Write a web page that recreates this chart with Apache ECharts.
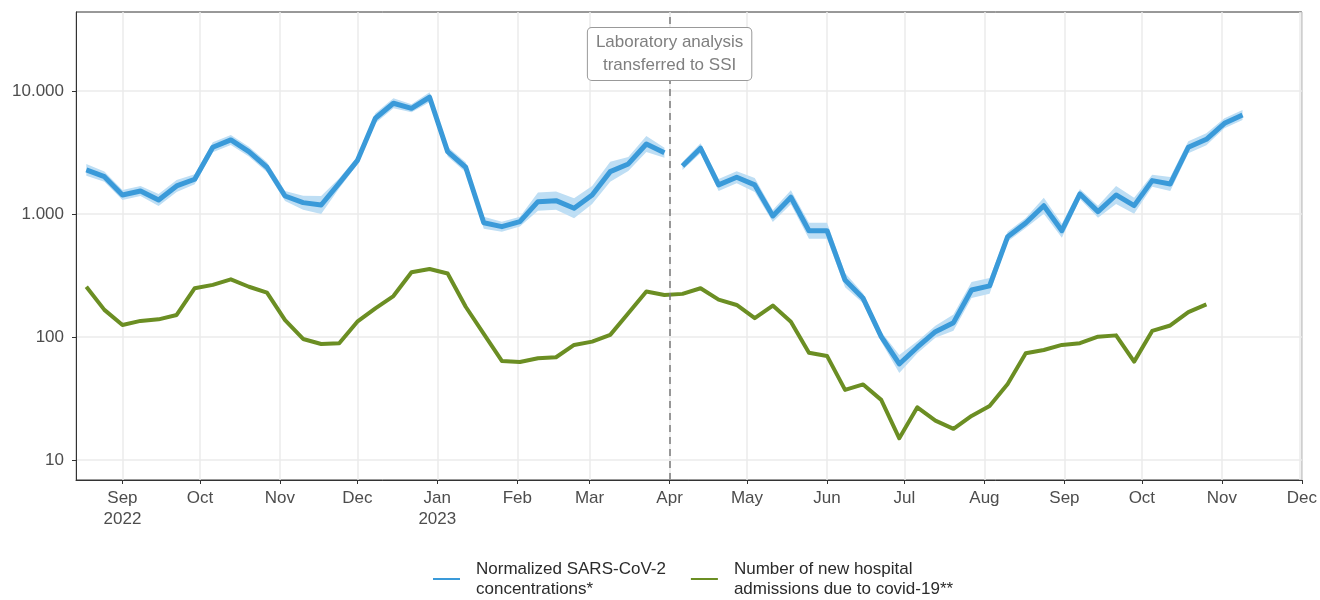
<!DOCTYPE html>
<html>
<head>
<meta charset="utf-8">
<script src="https://cdn.jsdelivr.net/npm/echarts@6/dist/echarts.min.js"></script>
<style>
  html, body { margin: 0; padding: 0; background: #fff; }
  #chart { width: 1320px; height: 600px; }
</style>
</head>
<body>
<div id="chart"></div>
<script>
// weekly samples, first week and the SSI transfer date
const firstWeek = '2022-08-18'
const transferDate = '2023-04-01'
const xMin = '2022-08-14'
const xMax = '2023-12-02'

// normalized SARS-CoV-2 concentrations (65 weeks), with ribbon bounds
const wastewater = [2280, 2010, 1427, 1538, 1300, 1690, 1915, 3485, 3998, 3212,
    2398, 1400, 1236, 1183, 1778, 2712, 5998, 7943, 7230, 8890,
    3212, 2398, 849, 788, 866, 1259, 1283, 1112, 1427, 2208,
    2551, 3707, 3148, 2455, 3421, 1722, 1988, 1722, 963, 1367,
    731, 731, 290, 206, 100.5, 60.3, 82.5, 110.4, 130.7, 241,
    260, 654, 845, 1166, 731, 1455, 1044, 1427, 1168, 1866,
    1754, 3485, 4049, 5461, 6380]
const wastewaterLow = [2040, 1830, 1300, 1400, 1160, 1510, 1744, 3174, 3641, 2925,
    2184, 1275, 1084, 999, 1619, 2516, 5463, 7234, 6707, 8097,
    2925, 2184, 759, 718, 789, 1063, 1084, 922, 1205, 1831,
    2238, 3190, 2867, 2277, 3116, 1539, 1777, 1511, 861, 1199,
    629, 629, 254, 188, 91.5, 50.9, 73.7, 98.7, 112.5, 207,
    224, 596, 770, 1003, 641, 1325, 933, 1205, 1005, 1668,
    1539, 3114, 3618, 4974, 5811]
const wastewaterHigh = [2550, 2210, 1567, 1690, 1455, 1891, 2103, 3827, 4390, 3527,
    2633, 1537, 1409, 1401, 1952, 2924, 6586, 8721, 7794, 9761,
    3527, 2633, 950, 865, 951, 1491, 1519, 1341, 1690, 2663,
    2908, 4308, 3457, 2646, 3756, 1927, 2225, 1963, 1078, 1558,
    849, 849, 331, 226, 110.3, 71.4, 92.3, 123.5, 151.9, 280,
    302, 718, 928, 1355, 833, 1598, 1168, 1690, 1357, 2088,
    2000, 3900, 4531, 5996, 7005]
// index of the first week measured by SSI
const ssiStart = 33

// new hospital admissions (63 weeks)
const admissions = [256, 166, 125, 135, 139, 151, 249, 265, 294, 256,
    229, 137, 96.3, 87.7, 88.9, 133, 171, 215, 336, 357,
    328, 176, 106, 63.8, 62.6, 67.1, 68.4, 86.1, 91.6, 104,
    156, 234, 219, 224, 249, 201, 182, 142, 180, 133,
    74.5, 70.1, 37.1, 41.1, 30.8, 15.0, 26.8, 20.9, 17.9, 22.8,
    27.5, 41.5, 73.6, 78.4, 86.1, 88.9, 100.5, 103, 63.0, 112,
    124, 159, 184]

const yTicks = [10, 100, 1000, 10000]
const monthNames = ['Jan', 'Feb', 'Mar', 'Apr', 'May', 'Jun', 'Jul', 'Aug', 'Sep', 'Oct', 'Nov', 'Dec']

const nameBlue = 'Normalized SARS-CoV-2 concentrations*'
const nameGreen = 'Number of new hospital admissions due to covid-19**'
const legendText = {}
legendText[nameBlue] = 'Normalized SARS-CoV-2\nconcentrations*'
legendText[nameGreen] = 'Number of new hospital\nadmissions due to covid-19**'

const DAY = 86400000
const t0 = new Date(firstWeek + 'T00:00:00').getTime()
const weeks = wastewater.map((_, i) => t0 + i * 7 * DAY)

const blueData = []
wastewater.forEach((v, i) => {
    if (i === ssiStart) blueData.push([new Date(transferDate + 'T00:00:00').getTime(), null])
    blueData.push([weeks[i], v])
})
const greenData = admissions.map((v, i) => [weeks[i], v])

// ribbon polygons, one per lab period
const bandGroups = [[0, ssiStart - 1], [ssiStart, wastewater.length - 1]]

const fontFamily = "'Liberation Sans', Arial, sans-serif"
const chart = echarts.init(document.getElementById('chart'))

const option = {
    animation: false,
    textStyle: {fontFamily: fontFamily},
    grid: {left: 76, right: 14, top: 12, bottom: 120, show: true, borderColor: '#333', borderWidth: 1, backgroundColor: 'transparent'},
    legend: {
        left: 428, top: 554,
        icon: 'rect', itemWidth: 27, itemHeight: 2, itemGap: 25,
        data: [nameBlue, nameGreen],
        formatter: n => legendText[n],
        textStyle: {fontSize: 17, color: '#2b2b2b', lineHeight: 20, fontFamily: fontFamily, padding: [0, 0, 0, 11]}
    },
    xAxis: {
        type: 'time',
        min: new Date(xMin + 'T00:00:00').getTime(),
        max: new Date(xMax + 'T00:00:00').getTime(),
        splitNumber: 16,
        axisLine: {lineStyle: {color: '#333', width: 1}},
        axisTick: {show: true, length: 4, lineStyle: {color: '#333'}},
        axisLabel: {
            color: '#4d4d4d', fontSize: 17, margin: 8, lineHeight: 21,
            showMinLabel: false, showMaxLabel: true, hideOverlap: false,
            formatter: v => {
                const d = new Date(v)
                const m = d.getMonth()
                let s = monthNames[m]
                if (m === 0 || (m === 8 && d.getFullYear() === 2022)) s += '\n' + d.getFullYear()
                return s
            }
        },
        splitLine: {show: true, lineStyle: {color: '#ebebeb', width: 1.5}},
        minorTick: {show: false}
    },
    yAxis: {
        type: 'log', logBase: 10,
        min: 6.87, max: 43850,
        axisLine: {show: true, lineStyle: {color: '#333'}},
        axisTick: {show: true, length: 4, lineStyle: {color: '#333'}, customValues: yTicks},
        axisLabel: {
            color: '#4d4d4d', fontSize: 17, margin: 12,
            customValues: yTicks,
            formatter: v => String(Math.round(v)).replace(/\B(?=(\d{3})+(?!\d))/g, '.')
        },
        splitLine: {show: true, lineStyle: {color: '#ebebeb', width: 1.5}}
    },
    series: [
        {
            type: 'custom',
            name: 'band',
            silent: true,
            z: 1,
            clip: true,
            data: bandGroups.map(g => [weeks[g[0]], wastewaterLow[g[0]]]),
            renderItem: (params, api) => {
                const g = bandGroups[params.dataIndex]
                const pts = []
                for (let i = g[0]; i <= g[1]; i++) pts.push(api.coord([weeks[i], wastewaterHigh[i]]))
                for (let i = g[1]; i >= g[0]; i--) pts.push(api.coord([weeks[i], wastewaterLow[i]]))
                return {
                    type: 'polygon',
                    shape: {points: pts},
                    style: {fill: '#bedef4', stroke: null}
                }
            }
        },
        {
            name: nameBlue,
            type: 'line',
            z: 3,
            symbol: 'none',
            connectNulls: false,
            itemStyle: {color: '#3a9ad9'},
            lineStyle: {color: '#3a9ad9', width: 5, join: 'round'},
            data: blueData,
            markLine: {
                silent: true,
                symbol: 'none',
                label: {show: false},
                lineStyle: {color: '#7a7a7a', type: [7, 5], width: 1.5},
                data: [{xAxis: new Date(transferDate + 'T00:00:00').getTime()}]
            }
        },
        {
            name: nameGreen,
            type: 'line',
            z: 3,
            symbol: 'none',
            itemStyle: {color: '#6b8e23'},
            lineStyle: {color: '#6b8e23', width: 4, join: 'round'},
            data: greenData
        }
    ]
}
chart.setOption(option)

// annotation box above the transfer line
const xTransfer = chart.convertToPixel({xAxisIndex: 0}, new Date(transferDate + 'T00:00:00').getTime())
chart.setOption({
    graphic: [{
        type: 'text',
        x: xTransfer, y: 54, z: 100,
        style: {
            text: 'Laboratory analysis\ntransferred to SSI',
            align: 'center', verticalAlign: 'middle',
            fontSize: 17, lineHeight: 23, fontFamily: fontFamily,
            fill: '#7f7f7f',
            backgroundColor: '#fff',
            borderColor: '#999', borderWidth: 1, borderRadius: 4,
            padding: [3, 8]
        }
    }]
})
</script>
</body>
</html>
